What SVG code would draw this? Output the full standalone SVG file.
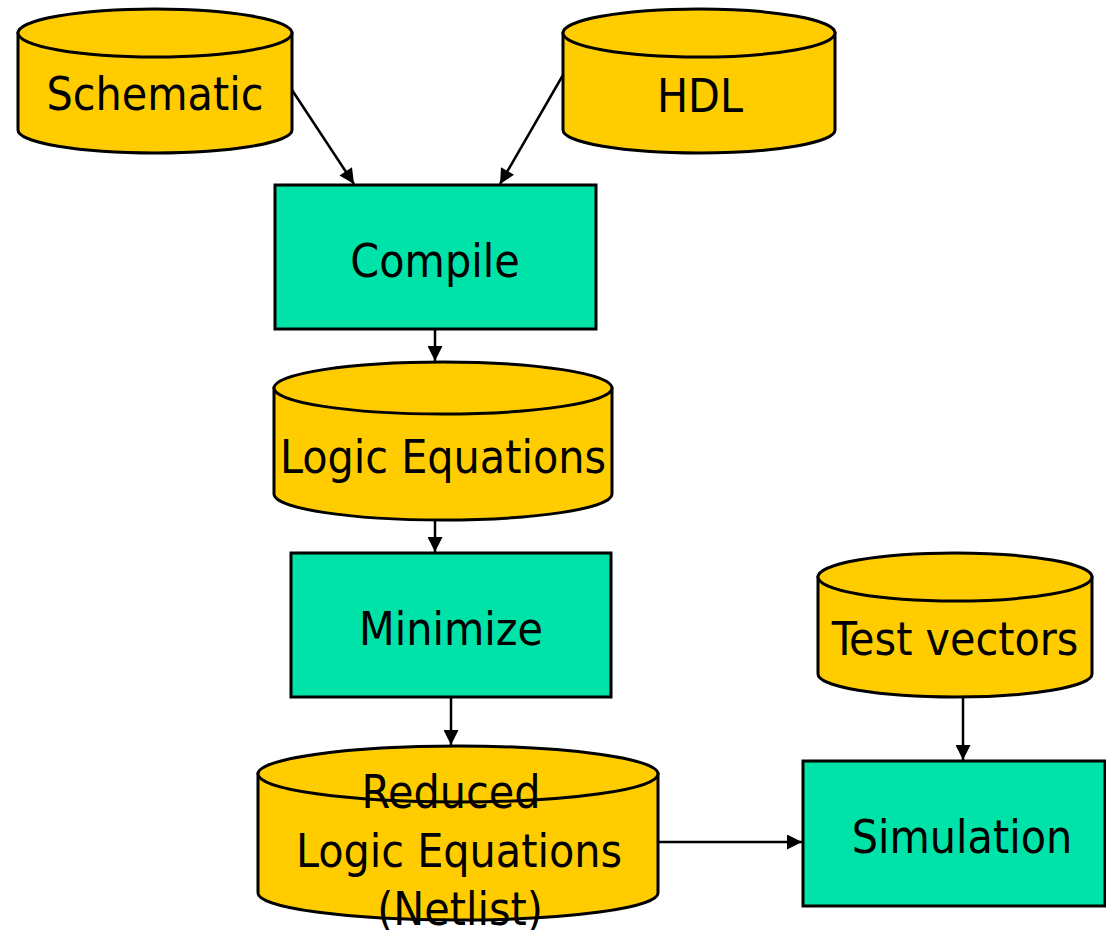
<svg xmlns="http://www.w3.org/2000/svg" width="1106" height="930" viewBox="0 0 1106 930">
<style>
.cyl{fill:#FFCC00;stroke:#000;stroke-width:3}
.box{fill:#00E3A8;stroke:#000;stroke-width:3}
.t{font-family:"DejaVu Sans Condensed","DejaVu Sans",sans-serif;font-size:46px;fill:#000;text-anchor:middle}
.c{stroke:#000;stroke-width:2.5;fill:none;marker-end:url(#ah)}
</style>
<defs>
<marker id="ah" viewBox="0 0 10 10" refX="10" refY="5" markerWidth="6.4" markerHeight="6" markerUnits="strokeWidth" orient="auto">
<path d="M0,0 L10,5 L0,10 Z" fill="#000"/>
</marker>
</defs>
<rect width="1106" height="930" fill="#fff"/>
<g id="connectors">
<line class="c" x1="292" y1="90" x2="354" y2="184"/>
<line class="c" x1="563" y1="75" x2="500" y2="184"/>
<line class="c" x1="435" y1="329" x2="435" y2="361"/>
<line class="c" x1="435" y1="520" x2="435" y2="552"/>
<line class="c" x1="451" y1="697" x2="451" y2="745"/>
<line class="c" x1="963" y1="697" x2="963" y2="760"/>
<line class="c" x1="658" y1="842" x2="802" y2="842"/>
</g>
<g id="schematic">
<path class="cyl" d="M18,33 L18,130 A137,23 0 0 0 292,130 L292,33 Z"/>
<ellipse class="cyl" cx="155" cy="33" rx="137" ry="24"/>
<text class="t" x="155" y="110">Schematic</text>
</g>
<g id="hdl">
<path class="cyl" d="M563,33 L563,130 A136,23 0 0 0 835,130 L835,33 Z"/>
<ellipse class="cyl" cx="699" cy="33" rx="136" ry="24"/>
<text class="t" x="700" y="112">HDL</text>
</g>
<g id="compile">
<rect class="box" x="275" y="185" width="321" height="144"/>
<text class="t" x="435" y="277">Compile</text>
</g>
<g id="logic-equations">
<path class="cyl" d="M274,388 L274,494 A169,26 0 0 0 612,494 L612,388 Z"/>
<ellipse class="cyl" cx="443" cy="388" rx="169" ry="26"/>
<text class="t" x="443" y="473">Logic Equations</text>
</g>
<g id="minimize">
<rect class="box" x="291" y="553" width="320" height="144"/>
<text class="t" x="451" y="645">Minimize</text>
</g>
<g id="reduced">
<path class="cyl" d="M258,774 L258,893 A200,27 0 0 0 658,893 L658,774 Z"/>
<ellipse class="cyl" cx="458" cy="774" rx="200" ry="28"/>
<text class="t" x="451" y="808">Reduced</text>
<text class="t" x="459" y="867">Logic Equations</text>
<text class="t" x="460" y="925">(Netlist)</text>
</g>
<g id="test-vectors">
<path class="cyl" d="M818,577 L818,674 A137,23 0 0 0 1092,674 L1092,577 Z"/>
<ellipse class="cyl" cx="955" cy="577" rx="137" ry="24"/>
<text class="t" x="955" y="655">Test vectors</text>
</g>
<g id="simulation">
<rect class="box" x="803" y="761" width="302" height="145"/>
<text class="t" x="962" y="853">Simulation</text>
</g>
</svg>
